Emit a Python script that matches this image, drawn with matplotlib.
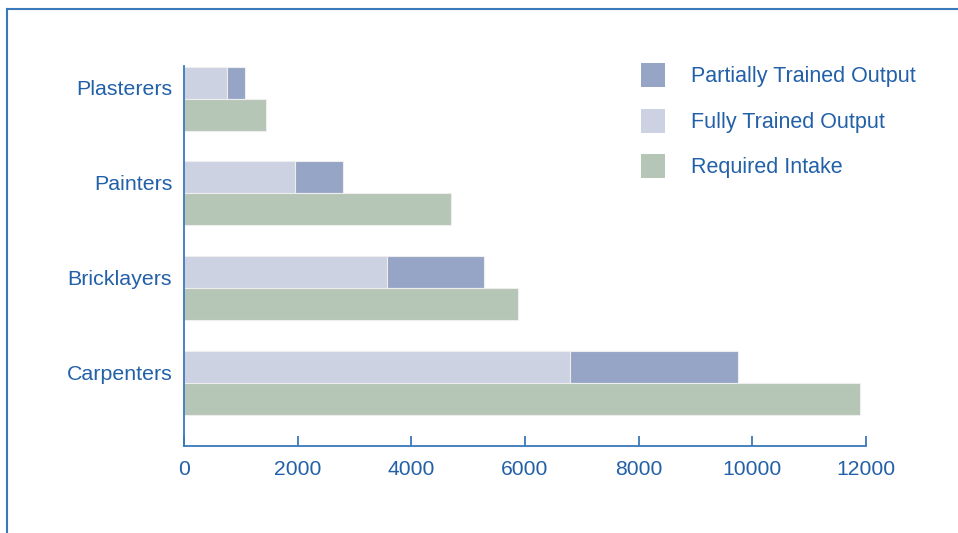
import matplotlib
matplotlib.use("Agg")
import matplotlib.pyplot as plt
from matplotlib.patches import Rectangle
from matplotlib.lines import Line2D
import numpy as np

categories = ["Carpenters", "Bricklayers", "Painters", "Plasterers"]
fully_trained = [6800, 3580, 1960, 750]
partially_trained = [2950, 1690, 840, 320]
required_intake = [11900, 5880, 4700, 1450]
xticks = [0, 2000, 4000, 6000, 8000, 10000, 12000]
legend_labels = ["Partially Trained Output", "Fully Trained Output", "Required Intake"]

c_partial = "#96a4c6"
c_full = "#ccd2e2"
c_req = "#b5c5b6"
c_text = "#2260a8"
c_axis = "#3a78bb"

plt.rcParams['font.family'] = ['Liberation Sans', 'DejaVu Sans']

W, H = 958, 533
fig = plt.figure(figsize=(W / 100, H / 100), dpi=100)
ax = fig.add_axes([184 / W, 1 - 445.7 / H, (866 - 184) / W, (445.7 - 66) / H])

y = np.arange(len(categories))
bh = 0.338
ax.barh(y + bh / 2, fully_trained, height=bh, color=c_full, edgecolor="#eeeeee", linewidth=0.8)
ax.barh(y + bh / 2, partially_trained, left=fully_trained, height=bh, color=c_partial,
        edgecolor="#eeeeee", linewidth=0.8)
ax.barh(y - bh / 2, required_intake, height=bh, color=c_req, edgecolor="#eeeeee", linewidth=0.8)

ax.set_xlim(0, 12000)
ax.set_ylim(-0.662, 3.345)
ax.set_xticks(xticks)
ax.set_xticklabels([str(v) for v in xticks])
ax.set_yticks(y + 0.115)
ax.set_yticklabels(categories)

for s in ["top", "right"]:
    ax.spines[s].set_visible(False)
for s in ["left", "bottom"]:
    ax.spines[s].set_color(c_axis)
    ax.spines[s].set_linewidth(1.3)

ax.tick_params(axis="x", direction="in", length=7.2, width=1.3, color=c_axis,
               labelcolor=c_text, labelsize=15.2, pad=10.5)
ax.tick_params(axis="y", length=0, labelcolor=c_text, labelsize=15.4, pad=8.5)

# legend (manual)
leg_colors = [c_partial, c_full, c_req]
leg_y = [75, 121, 166]
for col, lab, yy in zip(leg_colors, legend_labels, leg_y):
    fig.add_artist(Rectangle((641 / W, 1 - (yy + 12) / H), 24 / W, 24 / H,
                             transform=fig.transFigure, facecolor=col, edgecolor="none"))
    fig.text(691 / W, 1 - (yy + 1.5) / H, lab, color=c_text, fontsize=15.5, va="center", ha="left")

# outer frame lines
fig.add_artist(Line2D([7 / W, 1.0], [1 - 8.5 / H, 1 - 8.5 / H], transform=fig.transFigure,
                      color=c_axis, linewidth=1.5))
fig.add_artist(Line2D([7 / W, 7 / W], [1 - 8.5 / H, 0], transform=fig.transFigure,
                      color=c_axis, linewidth=1.5))

fig.savefig("out.png", dpi=100)
